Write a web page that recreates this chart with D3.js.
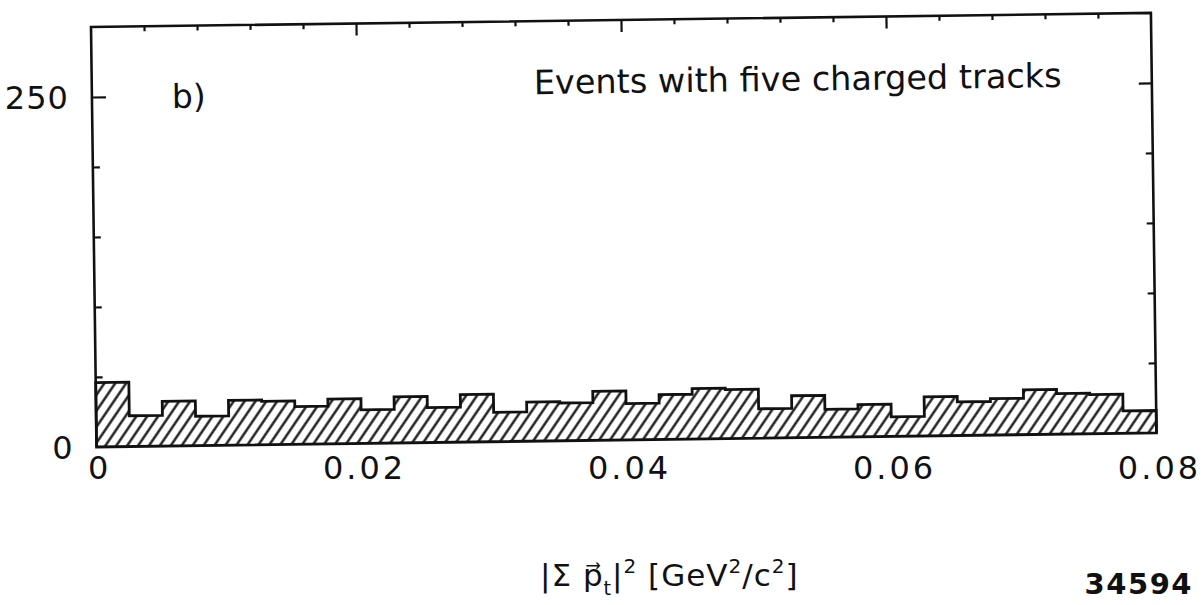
<!DOCTYPE html>
<html>
<head>
<meta charset="utf-8">
<script src="https://cdn.jsdelivr.net/npm/d3@7"></script>
<style>
  html, body { margin: 0; padding: 0; background: #fff; }
  svg { display: block; }
  text { font-family: "DejaVu Sans", sans-serif; fill: #111; }
</style>
</head>
<body>
<svg id="chart" width="1204" height="605"></svg>
<script>
// Histogram bins: lower edge of each bin in |Σ p_t|² (GeV²/c²)
const binLow = [
  0.0000, 0.0025, 0.0050, 0.0075, 0.0100, 0.0125, 0.0150, 0.0175,
  0.0200, 0.0225, 0.0250, 0.0275, 0.0300, 0.0325, 0.0350, 0.0375,
  0.0400, 0.0425, 0.0450, 0.0475, 0.0500, 0.0525, 0.0550, 0.0575,
  0.0600, 0.0625, 0.0650, 0.0675, 0.0700, 0.0725, 0.0750, 0.0775
];
const binWidth = 0.0025;
// Events per bin
const counts = [
  46, 22, 32, 21, 32, 31, 27, 32,
  24, 33, 25, 34, 21, 28, 27, 35,
  26, 32, 36, 35, 21, 30, 20, 23,
  14, 28, 24, 26, 32, 29, 28, 16
];

// Axis ticks and labels
const xDomain = [0, 0.08];
const yDomain = [0, 300];
const xLabelValues = [0, 0.02, 0.04, 0.06, 0.08];
const xLabelText = ["0", "0.02", "0.04", "0.06", "0.08"];
const xMajorTicks = [0.02, 0.04, 0.06];
const xMinorTicks = [0.004, 0.008, 0.012, 0.016, 0.024, 0.028, 0.032, 0.036,
                     0.044, 0.048, 0.052, 0.056, 0.064, 0.068, 0.072, 0.076];
const yLabelValues = [0, 250];
const yLabelText = ["0", "250"];
const yMajorTicks = [250];
const yMinorTicks = [50, 100, 150, 200];

const panelLabel = "b)";
const panelTitle = "Events with five charged tracks";
const figureNumber = "34594";

// Plot frame geometry (frame is drawn slightly tilted, as plotted)
const origin = { x: 91, y: 27 };
const W = 1060, H = 420;
const tilt = -0.76; // degrees

const svg = d3.select("#chart");
const x = d3.scaleLinear().domain(xDomain).range([0, W]);
const y = d3.scaleLinear().domain(yDomain).range([H, 0]);

// map a point of the plot frame into page coordinates
const rad = tilt * Math.PI / 180;
function toPage(px, py) {
  return [origin.x + px * Math.cos(rad) - py * Math.sin(rad),
          origin.y + px * Math.sin(rad) + py * Math.cos(rad)];
}

// hatch pattern
const defs = svg.append("defs");
const pat = defs.append("pattern")
  .attr("id", "hatch")
  .attr("patternUnits", "userSpaceOnUse")
  .attr("width", 9).attr("height", 9)
  .attr("patternTransform", "rotate(35)");
pat.append("line")
  .attr("x1", 4.5).attr("y1", -1).attr("x2", 4.5).attr("y2", 10)
  .attr("stroke", "#111").attr("stroke-width", 2.3);

const g = svg.append("g")
  .attr("transform", `translate(${origin.x},${origin.y}) rotate(${tilt})`);

// histogram as a step outline
let d = `M${x(binLow[0])},${y(0)}`;
counts.forEach((c, i) => {
  d += `V${y(c)}H${x(binLow[i] + binWidth)}`;
});
d += `V${y(0)}Z`;
g.append("path")
  .attr("d", d)
  .attr("fill", "url(#hatch)")
  .attr("stroke", "#111")
  .attr("stroke-width", 2.8)
  .attr("stroke-linejoin", "miter");

// frame: left, top, right
g.append("path")
  .attr("d", `M${x(0)},${y(0)}V${y(300)}H${x(0.08)}V${y(0)}`)
  .attr("fill", "none")
  .attr("stroke", "#111")
  .attr("stroke-width", 2.6);

function tickAxis(gen, values, size, transform) {
  const a = g.append("g").attr("transform", transform || null)
    .call(gen.tickValues(values).tickSize(size).tickFormat(""));
  a.select(".domain").remove();
  a.selectAll(".tick line").attr("stroke", "#111").attr("stroke-width", 2.2);
  return a;
}
// ticks point into the frame
tickAxis(d3.axisTop(x), xMinorTicks, -5);
tickAxis(d3.axisTop(x), xMajorTicks, -12);
tickAxis(d3.axisLeft(y), yMinorTicks, -7);
tickAxis(d3.axisLeft(y), yMajorTicks, -14);
tickAxis(d3.axisRight(y), yMinorTicks, -7, `translate(${W},0)`);
tickAxis(d3.axisRight(y), yMajorTicks, -13, `translate(${W},0)`);

// in-frame captions
g.append("text")
  .attr("x", 80).attr("y", 82)
  .attr("font-size", 33)
  .text(panelLabel);
g.append("text")
  .attr("x", 442).attr("y", 73)
  .attr("font-size", 33.5)
  .text(panelTitle);

// tick labels, set upright on the page
xLabelValues.forEach((v, i) => {
  const p = toPage(x(v), y(0));
  svg.append("text")
    .attr("x", p[0] + 3).attr("y", 479)
    .attr("text-anchor", "middle")
    .attr("font-size", 32)
    .attr("letter-spacing", 3)
    .text(xLabelText[i]);
});
yLabelValues.forEach((v, i) => {
  const p = toPage(x(0), y(v));
  svg.append("text")
    .attr("x", p[0] - 23).attr("y", p[1] + 12)
    .attr("text-anchor", "end")
    .attr("font-size", 32)
    .attr("letter-spacing", 1)
    .text(yLabelText[i]);
});

// x-axis title: |Σ p⃗_t|² [GeV²/c²]
const title = svg.append("text")
  .attr("x", 540).attr("y", 586)
  .attr("font-size", 31)
  .attr("letter-spacing", 1);
title.append("tspan").text("|Σ p\u20D7");
title.append("tspan").attr("font-size", 19).attr("dy", 9).text("t");
title.append("tspan").attr("dy", -9).text("|");
title.append("tspan").attr("font-size", 20).attr("dy", -13).text("2");
title.append("tspan").attr("dy", 13).text("  [GeV");
title.append("tspan").attr("font-size", 20).attr("dy", -13).text("2");
title.append("tspan").attr("dy", 13).text("/c");
title.append("tspan").attr("font-size", 20).attr("dy", -13).text("2");
title.append("tspan").attr("dy", 13).text("]");

svg.append("text")
  .attr("x", 1193).attr("y", 594)
  .attr("text-anchor", "end")
  .attr("font-family", "Liberation Sans, Arial, sans-serif")
  .attr("font-weight", "bold")
  .attr("font-size", 29)
  .attr("letter-spacing", 1.5)
  .text(figureNumber);
</script>
</body>
</html>
